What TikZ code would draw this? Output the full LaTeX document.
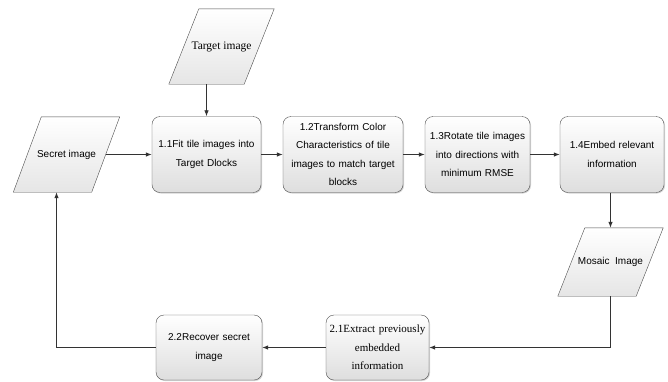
\documentclass[tikz,border=0pt]{standalone}
\usepackage{fontspec}
\setmainfont{Liberation Sans}
\newfontfamily\serifface{Liberation Serif}
\usetikzlibrary{shadows,arrows.meta,backgrounds}

\begin{document}
\begin{tikzpicture}[x=1pt, y=-1pt,
    proc/.style={draw=black!70, rounded corners=8pt, top color=white, bottom color=black!13,
        align=center, inner sep=2pt, font=\fontsize{10}{18.5}\selectfont,
        drop shadow={shadow xshift=1pt, shadow yshift=-1pt, opacity=0.35}},
    io/.style={align=center, inner sep=1pt, font=\fontsize{10}{18.5}\selectfont},
    iobg/.style={draw=black!70, top color=white, bottom color=black!10},
    flow/.style={draw=black!80, line width=0.8pt, -{Latex[length=6pt,width=4.5pt]}}]
    \useasboundingbox (0,0) rectangle (668,381);
    % inputs and outputs
    \node[io, minimum width=75pt, minimum height=75pt, font=\serifface\fontsize{11.5}{14}\selectfont] (target) at (221.5,46.5) {Target image};
    \node[io, minimum width=78pt, minimum height=75pt] (secret) at (66.5,154.5) {Secret image};
    \node[io, minimum width=78pt, minimum height=68pt] (mosaic) at (610.5,262) {Mosaic\ \ Image};
    \begin{scope}[on background layer]
        \shadedraw[iobg] ([xshift=15pt]target.north west) -- ([xshift=15pt]target.north east)
            -- ([xshift=-15pt]target.south east) -- ([xshift=-15pt]target.south west) -- cycle;
        \shadedraw[iobg] ([xshift=14pt]secret.north west) -- ([xshift=14pt]secret.north east)
            -- ([xshift=-14pt]secret.south east) -- ([xshift=-14pt]secret.south west) -- cycle;
        \shadedraw[iobg] ([xshift=13.5pt]mosaic.north west) -- ([xshift=13.5pt]mosaic.north east)
            -- ([xshift=-13.5pt]mosaic.south east) -- ([xshift=-13.5pt]mosaic.south west) -- cycle;
    \end{scope}
    % embedding steps
    \node[proc, minimum width=109pt, minimum height=76pt, text width=100pt] (fit) at (206.5,154.5) {1.1Fit tile images into\\Target Dlocks};
    \node[proc, minimum width=120pt, minimum height=76pt, text width=112pt] (transform) at (343,154.5) {1.2Transform Color\\Characteristics of tile\\images to match target\\blocks};
    \node[proc, minimum width=105pt, minimum height=76pt, text width=98pt] (rotate) at (477.5,154.5) {1.3Rotate tile images\\into directions with\\minimum RMSE};
    \node[proc, minimum width=104pt, minimum height=76pt, text width=97pt] (embed) at (612,154.5) {1.4Embed relevant\\information};
    % recovery steps
    \node[proc, minimum width=103pt, minimum height=65pt, text width=99pt, font=\serifface\fontsize{11}{18.5}\selectfont] (extract) at (377.5,347.5) {2.1Extract previously\\embedded\\information};
    \node[proc, minimum width=106pt, minimum height=65pt, text width=99pt] (recover) at (209,347.5) {2.2Recover secret\\image};
    % connectors
    \draw[flow] (fit.north |- target.south) -- (fit.north);
    \draw[flow] (secret) -- (fit);
    \draw[flow] (fit) -- (transform);
    \draw[flow] (transform) -- (rotate);
    \draw[flow] (rotate) -- (embed);
    \draw[flow] (embed.south -| mosaic.north) -- (mosaic.north);
    \draw[flow] (mosaic.south) |- (extract.east);
    \draw[flow] (extract) -- (recover);
    \draw[flow] (recover.west) -| ([xshift=-10pt]secret.south);
\end{tikzpicture}
\end{document}
